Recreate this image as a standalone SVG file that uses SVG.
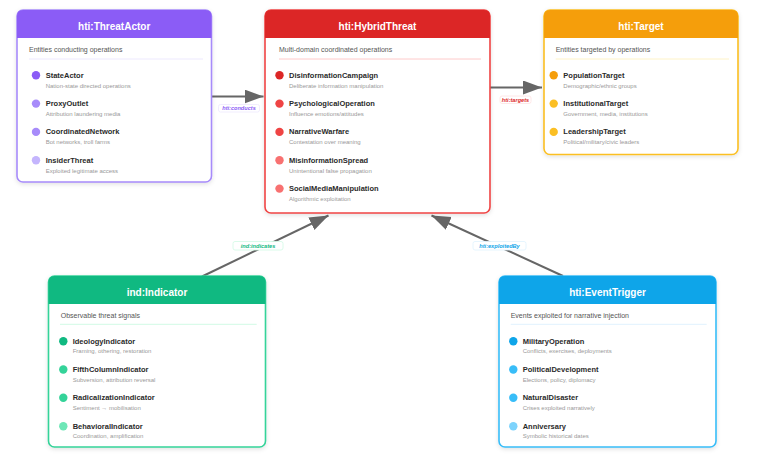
<svg xmlns="http://www.w3.org/2000/svg" width="757" height="467" viewBox="0 0 757 467">
<style>
text{font-family:"Liberation Sans",Arial,sans-serif}
.title{font-size:10px;font-weight:bold;fill:#fff;text-anchor:middle}
.sub{font-size:7px;fill:#555}
.name{font-size:7.5px;font-weight:bold;fill:#2a2a2a}
.desc{font-size:6px;fill:#999}
.box{fill:#fff;stroke-width:1.6}
.sep{stroke-width:1}
.conn{stroke:#666;stroke-width:2;fill:none;marker-end:url(#arr)}
.lblbox{fill:#fff;stroke-width:0.8}
.lbl{font-size:5.6px;font-weight:bold;font-style:italic;text-anchor:middle}
</style>
<defs>
<filter id="sh" x="-10%" y="-10%" width="120%" height="130%">
<feDropShadow dx="0" dy="1.5" stdDeviation="2" flood-color="#000" flood-opacity="0.12"/>
</filter>
<marker id="arr" markerUnits="userSpaceOnUse" markerWidth="20" markerHeight="15" refX="19" refY="7" orient="auto">
<path d="M0,0 L19,7 L0,14 Z" fill="#666"/>
</marker>
</defs>

<g id="connectors">
<g id="conn-conducts">
<line class="conn" x1="212" y1="96.5" x2="263.5" y2="96.5"/>
<rect class="lblbox" x="218.5" y="104.5" width="41" height="7.5" rx="2" stroke="#ede9fe"/>
<text class="lbl" x="239" y="110.2" fill="#8b5cf6">hti:conducts</text>
</g>
<g id="conn-targets">
<line class="conn" x1="490" y1="87.5" x2="542" y2="87.5"/>
<rect class="lblbox" x="500" y="96" width="31" height="7.5" rx="2" stroke="#fee2e2"/>
<text class="lbl" x="515.5" y="101.7" fill="#dc2626">hti:targets</text>
</g>
<g id="conn-indicates">
<line class="conn" x1="202" y1="276.5" x2="328.5" y2="215.5"/>
<rect class="lblbox" x="233" y="241.5" width="50" height="8.5" rx="2" stroke="#d1fae5"/>
<text class="lbl" x="258" y="247.8" fill="#10b981">ind:indicates</text>
</g>
<g id="conn-exploitedBy">
<line class="conn" x1="563" y1="276" x2="431.5" y2="215.5"/>
<rect class="lblbox" x="473" y="241.5" width="53" height="8.5" rx="2" stroke="#e0f2fe"/>
<text class="lbl" x="499.5" y="247.8" fill="#0ea5e9">hti:exploitedBy</text>
</g>
</g>

<g id="ThreatActor">
<rect class="box" x="17" y="10" width="194.5" height="172" rx="6" stroke="#a78bfa" filter="url(#sh)"/>
<path d="M17,38 V16 Q17,10 23,10 H205.5 Q211.5,10 211.5,16 V38 Z" fill="#8b5cf6"/>
<text class="title" x="114.2" y="30.3">hti:ThreatActor</text>
<text class="sub" x="29" y="52">Entities conducting operations</text>
<line class="sep" x1="29" y1="59" x2="203" y2="59" stroke="#ede9fe"/>
<circle cx="36" cy="75.3" r="4.2" fill="#8b5cf6"/>
<text class="name" x="45.7" y="77.7">StateActor</text>
<text class="desc" x="45.7" y="87.6">Nation-state directed operations</text>
<circle cx="36" cy="103.6" r="4.2" fill="#a78bfa"/>
<text class="name" x="45.7" y="106">ProxyOutlet</text>
<text class="desc" x="45.7" y="115.9">Attribution laundering media</text>
<circle cx="36" cy="131.9" r="4.2" fill="#a78bfa"/>
<text class="name" x="45.7" y="134.3">CoordinatedNetwork</text>
<text class="desc" x="45.7" y="144.2">Bot networks, troll farms</text>
<circle cx="36" cy="160.3" r="4.2" fill="#c4b5fd"/>
<text class="name" x="45.7" y="162.7">InsiderThreat</text>
<text class="desc" x="45.7" y="172.5">Exploited legitimate access</text>
</g>

<g id="HybridThreat">
<rect class="box" x="265" y="10" width="225" height="203" rx="6" stroke="#ef4444" filter="url(#sh)"/>
<path d="M265,38 V16 Q265,10 271,10 H484 Q490,10 490,16 V38 Z" fill="#dc2626"/>
<text class="title" x="377.5" y="30.3">hti:HybridThreat</text>
<text class="sub" x="279" y="52">Multi-domain coordinated operations</text>
<line class="sep" x1="279" y1="59" x2="481" y2="59" stroke="#fecaca"/>
<circle cx="279.5" cy="75.3" r="4.2" fill="#dc2626"/>
<text class="name" x="289" y="77.7">DisinformationCampaign</text>
<text class="desc" x="289" y="87.6">Deliberate information manipulation</text>
<circle cx="279.5" cy="103.6" r="4.2" fill="#ef4444"/>
<text class="name" x="289" y="106">PsychologicalOperation</text>
<text class="desc" x="289" y="115.9">Influence emotions/attitudes</text>
<circle cx="279.5" cy="131.9" r="4.2" fill="#ef4444"/>
<text class="name" x="289" y="134.3">NarrativeWarfare</text>
<text class="desc" x="289" y="144.2">Contestation over meaning</text>
<circle cx="279.5" cy="160.3" r="4.2" fill="#f87171"/>
<text class="name" x="289" y="162.7">MisinformationSpread</text>
<text class="desc" x="289" y="172.5">Unintentional false propagation</text>
<circle cx="279.5" cy="188.6" r="4.2" fill="#f87171"/>
<text class="name" x="289" y="191">SocialMediaManipulation</text>
<text class="desc" x="289" y="200.9">Algorithmic exploitation</text>
</g>

<g id="Target">
<rect class="box" x="544" y="10" width="194" height="144.5" rx="6" stroke="#fbbf24" filter="url(#sh)"/>
<path d="M544,38 V16 Q544,10 550,10 H732 Q738,10 738,16 V38 Z" fill="#f59e0b"/>
<text class="title" x="641" y="30.3">hti:Target</text>
<text class="sub" x="555.7" y="52">Entities targeted by operations</text>
<line class="sep" x1="555.7" y1="59" x2="729" y2="59" stroke="#fef3c7"/>
<circle cx="553.7" cy="75.3" r="4.2" fill="#f59e0b"/>
<text class="name" x="563.3" y="77.7">PopulationTarget</text>
<text class="desc" x="563.3" y="87.6">Demographic/ethnic groups</text>
<circle cx="553.7" cy="103.6" r="4.2" fill="#fbbf24"/>
<text class="name" x="563.3" y="106">InstitutionalTarget</text>
<text class="desc" x="563.3" y="115.9">Government, media, institutions</text>
<circle cx="553.7" cy="131.9" r="4.2" fill="#fbbf24"/>
<text class="name" x="563.3" y="134.3">LeadershipTarget</text>
<text class="desc" x="563.3" y="144.2">Political/military/civic leaders</text>
</g>

<g id="Indicator">
<rect class="box" x="48.5" y="276" width="217" height="171" rx="6" stroke="#34d399" filter="url(#sh)"/>
<path d="M48.5,304 V282 Q48.5,276 54.5,276 H259.5 Q265.5,276 265.5,282 V304 Z" fill="#10b981"/>
<text class="title" x="157" y="295.9">ind:Indicator</text>
<text class="sub" x="60.7" y="317.8">Observable threat signals</text>
<line class="sep" x1="60" y1="324.3" x2="256.7" y2="324.3" stroke="#d1fae5"/>
<circle cx="63.3" cy="341.2" r="4.2" fill="#10b981"/>
<text class="name" x="72.7" y="343.7">IdeologyIndicator</text>
<text class="desc" x="72.7" y="353.4">Framing, othering, restoration</text>
<circle cx="63.3" cy="369.5" r="4.2" fill="#34d399"/>
<text class="name" x="72.7" y="372">FifthColumnIndicator</text>
<text class="desc" x="72.7" y="381.7">Subversion, attribution reversal</text>
<circle cx="63.3" cy="397.8" r="4.2" fill="#34d399"/>
<text class="name" x="72.7" y="400.3">RadicalizationIndicator</text>
<text class="desc" x="72.7" y="410">Sentiment → mobilisation</text>
<circle cx="63.3" cy="426.2" r="4.2" fill="#6ee7b7"/>
<text class="name" x="72.7" y="428.7">BehavioralIndicator</text>
<text class="desc" x="72.7" y="438.3">Coordination, amplification</text>
</g>

<g id="EventTrigger">
<rect class="box" x="499" y="276" width="217" height="171" rx="6" stroke="#38bdf8" filter="url(#sh)"/>
<path d="M499,304 V282 Q499,276 505,276 H710 Q716,276 716,282 V304 Z" fill="#0ea5e9"/>
<text class="title" x="607.5" y="295.9">hti:EventTrigger</text>
<text class="sub" x="510.7" y="317.8">Events exploited for narrative injection</text>
<line class="sep" x1="510.7" y1="324.3" x2="706.7" y2="324.3" stroke="#e0f2fe"/>
<circle cx="513.3" cy="341.2" r="4.2" fill="#0ea5e9"/>
<text class="name" x="522.7" y="343.7">MilitaryOperation</text>
<text class="desc" x="522.7" y="353.4">Conflicts, exercises, deployments</text>
<circle cx="513.3" cy="369.5" r="4.2" fill="#38bdf8"/>
<text class="name" x="522.7" y="372">PoliticalDevelopment</text>
<text class="desc" x="522.7" y="381.7">Elections, policy, diplomacy</text>
<circle cx="513.3" cy="397.8" r="4.2" fill="#38bdf8"/>
<text class="name" x="522.7" y="400.3">NaturalDisaster</text>
<text class="desc" x="522.7" y="410">Crises exploited narratively</text>
<circle cx="513.3" cy="426.2" r="4.2" fill="#7dd3fc"/>
<text class="name" x="522.7" y="428.7">Anniversary</text>
<text class="desc" x="522.7" y="438.3">Symbolic historical dates</text>
</g>
</svg>
